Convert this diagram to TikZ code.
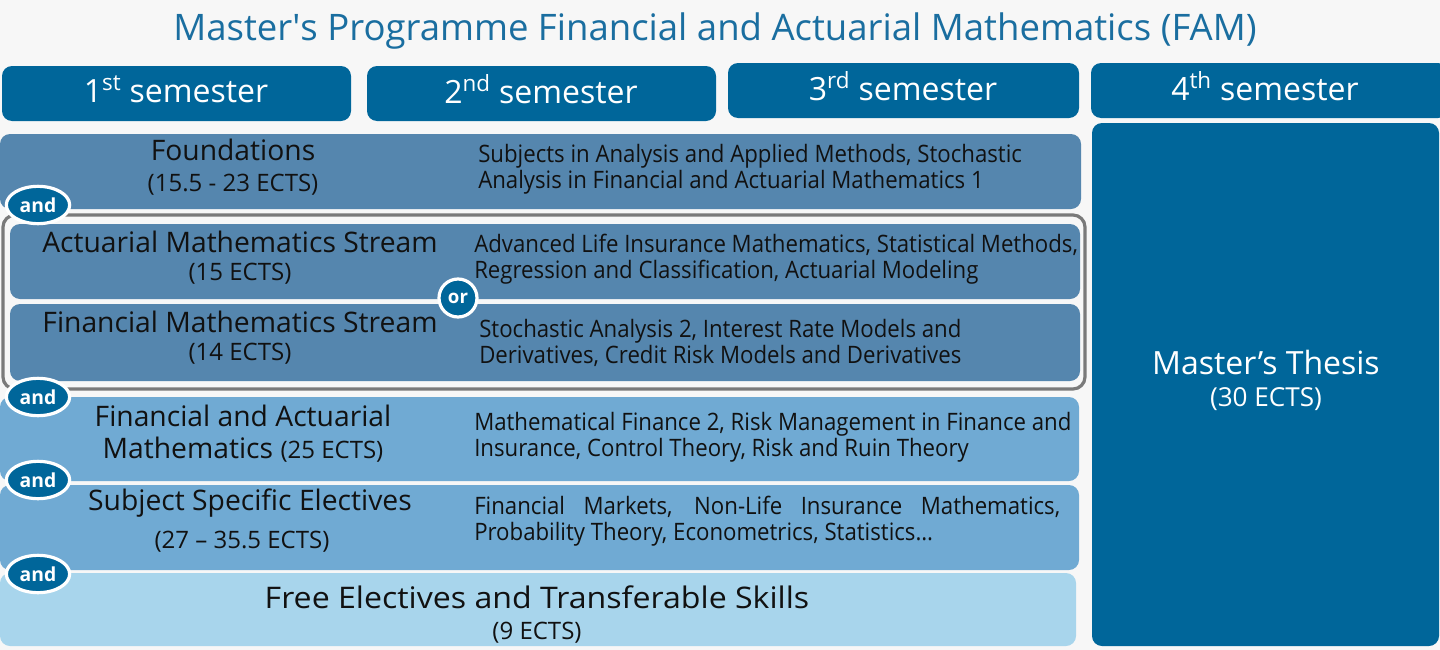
\documentclass[tikz,border=0pt]{standalone}
\usepackage{fontspec}
\setmainfont{Open Sans}
\newfontfamily\condfont[FakeStretch=0.925]{Open Sans}
\newfontfamily\widefont[FakeStretch=1.08]{Open Sans}
\usetikzlibrary{shapes.geometric}
\definecolor{bg}{RGB}{247,247,247}
\definecolor{dblue}{RGB}{0,102,154}
\definecolor{titleblue}{RGB}{26,110,160}
\definecolor{midblue}{RGB}{85,134,174}
\definecolor{lblue}{RGB}{112,170,211}
\definecolor{pblue}{RGB}{168,213,236}
\definecolor{frame}{RGB}{122,122,122}
\definecolor{ink}{RGB}{17,17,17}
\newcommand{\fs}[2]{\fontsize{#1}{#2}\selectfont}
\tikzset{
  box/.style={rounded corners=7.5pt},
  hdr/.style={text=white,font=\fs{24}{28}},
  rowtitle/.style={text=ink,align=center,font=\fs{21.2}{25}},
  ects/.style={text=ink,font=\fs{18}{21}},
  desc/.style={text=ink,anchor=west,align=left,inner sep=0pt,font=\condfont\fs{18}{19.5}},
  andbadge/.style={ellipse,fill=dblue,draw=white,line width=2.4pt,minimum width=47.5pt,minimum height=28pt,inner sep=0pt,text=white,font=\bfseries\fs{14.5}{16}},
  orbadge/.style={circle,fill=dblue,draw=white,line width=2.4pt,minimum size=28.5pt,inner sep=0pt,text=white,font=\bfseries\fs{14}{15}}
}
\begin{document}
\begin{tikzpicture}[x=0.75pt,y=-0.75pt]
\fill[bg] (0,0) rectangle (1440,650);
\useasboundingbox (0,0) rectangle (1440,650);
% title
\node[text=titleblue,font=\fs{27.4}{31}] (title) at (715,31) {Master\textquotesingle s Programme Financial and Actuarial Mathematics (FAM)};
% headers
\fill[dblue,box] (2,66) rectangle (351,121);
\fill[dblue,box] (367,66) rectangle (716,121);
\fill[dblue,box] (728,63) rectangle (1079,118);
\fill[dblue,box] (1091,63) rectangle (1448,118);
\node[hdr] (h1) at (176,89) {1\textsuperscript{st} semester};
\node[hdr] (h2) at (541,89) {2\textsuperscript{nd} semester};
\node[hdr] (h3) at (903,86) {3\textsuperscript{rd} semester};
\node[hdr] (h4) at (1265,86) {4\textsuperscript{th} semester};
% thesis
\fill[dblue,box] (1092,123) rectangle (1439,646);
\node[text=white,font=\fs{24}{28}] (th1) at (1266,362) {Master’s Thesis};
\node[text=white,font=\fs{19.6}{23}] (th2) at (1266,399) {(30 ECTS)};
% foundations
\fill[midblue,box] (0,134) rectangle (1081,209);
\node[rowtitle] (f1) at (233,150) {Foundations};
\node[ects] (f2) at (233,185) {(15.5 - 23 ECTS)};
\node[desc] (fd) at (478,169) {Subjects in Analysis and Applied Methods, Stochastic\\Analysis in Financial and Actuarial Mathematics 1};
% frame
\draw[frame,line width=2.4pt,rounded corners=9pt] (3,215) rectangle (1085,389);
\fill[midblue,box] (10,224) rectangle (1080,299);
\fill[midblue,box] (10,304) rectangle (1080,381);
\node[rowtitle] (a1) at (240,242) {Actuarial Mathematics Stream};
\node[ects] (a2) at (240,274) {(15 ECTS)};
\node[desc] (ad) at (474,259) {Advanced Life Insurance Mathematics, Statistical Methods,\\Regression and Classification, Actuarial Modeling};
\node[rowtitle] (s1) at (240,322) {Financial Mathematics Stream};
\node[ects] (s2) at (240,354) {(14 ECTS)};
\node[desc] (sd) at (479,343) {Stochastic Analysis 2, Interest Rate Models and\\Derivatives, Credit Risk Models and Derivatives};
% FAM
\fill[lblue,box] (0,397) rectangle (1079,481);
\node[rowtitle] (m1) at (243,416) {Financial and Actuarial};
\node[rowtitle] (m2) at (243,450) {Mathematics {\fs{18}{20}(25 ECTS)}};
\node[desc] (md) at (474,437) {Mathematical Finance 2, Risk Management in Finance and\\Insurance, Control Theory, Risk and Ruin Theory};
% SSE
\fill[lblue,box] (0,485) rectangle (1079,570);
\node[rowtitle] (e1) at (250,503) {Subject Specific Electives};
\node[ects] (e2) at (242,542) {(27 – 35.5 ECTS)};
\node[desc] (ed) at (474,521) {\makebox[439.5pt][s]{Financial Markets, Non-Life Insurance Mathematics,}\\Probability Theory, Econometrics, Statistics…};
% free
\fill[pblue,box] (0,573) rectangle (1076,646);
\node[text=ink,font=\widefont\fs{22.3}{26}] (r1) at (537,597) {Free Electives and Transferable Skills};
\node[ects] (r2) at (537,633) {(9 ECTS)};
% badges
\node[andbadge] (b1) at (38,205) {and};
\node[andbadge] (b2) at (38,397) {and};
\node[andbadge] (b3) at (38,480) {and};
\node[andbadge] (b4) at (38,574) {and};
\node[orbadge] (o1) at (458,298) {or};
\end{tikzpicture}
\end{document}
